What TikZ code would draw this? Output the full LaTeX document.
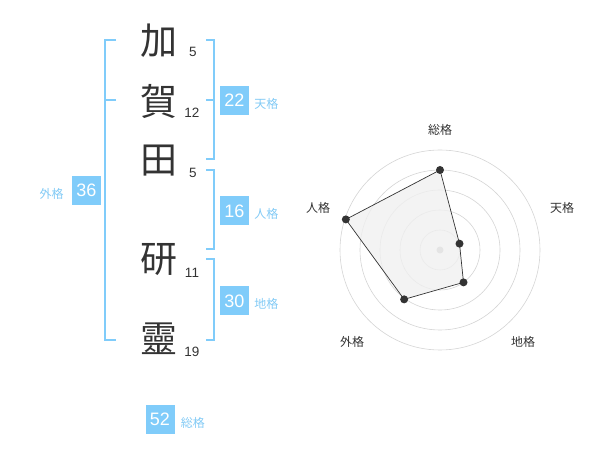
\documentclass[tikz,border=0pt]{standalone}
\usepackage{fontspec}
\setmainfont{Liberation Sans}
\newfontfamily\jpfont{Noto Sans CJK JP}
\usetikzlibrary{positioning}
\definecolor{kakublue}{RGB}{128,204,250}
\definecolor{kakutext}{RGB}{130,202,245}
\definecolor{inkgray}{RGB}{51,51,51}
\definecolor{ringgray}{RGB}{212,212,212}
\definecolor{areagray}{RGB}{240,240,240}

\begin{document}
\begin{tikzpicture}[
  x=1pt, y=-1pt,
  every node/.style={inner sep=0pt},
  kanji/.style={font=\jpfont\fontsize{37}{37}\selectfont, text=inkgray},
  strokes/.style={font=\fontsize{13.5}{13.5}\selectfont, text=inkgray},
  score/.style={fill=kakublue, text=white, minimum size=29pt, font=\fontsize{18}{18}\selectfont},
  kaku/.style={font=\jpfont\fontsize{12}{12}\selectfont, text=kakutext},
  axislabel/.style={font=\jpfont\fontsize{12}{12}\selectfont, text=inkgray},
  brace/.style={draw=kakublue, line width=2pt},
  ring/.style={draw=ringgray, line width=0.6pt},
  dot/.style={circle, fill=inkgray, minimum size=8pt},
  ]
  \useasboundingbox (0,0) rectangle (600,470);

  % name
  \node[kanji] (ka) at (159,41) {加};
  \node[kanji] (ga) at (159,101) {賀};
  \node[kanji] (ta) at (159,161) {田};
  \node[kanji] (ken) at (159,260) {研};
  \node[kanji] (rei) at (159,339) {靈};
  \node[strokes] (nka) at (193,52) {5};
  \node[strokes] (nga) at (192,113) {12};
  \node[strokes] (nta) at (193,173) {5};
  \node[strokes] (nken) at (192,273) {11};
  \node[strokes] (nrei) at (192,352) {19};

  % brackets
  \coordinate (tenTop) at (206,40);
  \coordinate (tenMid) at (206,100);
  \coordinate (tenBot) at (206,159);
  \coordinate (jinTop) at (206,170);
  \coordinate (jinBot) at (206,249);
  \coordinate (chiTop) at (206,259);
  \coordinate (chiBot) at (206,340);
  \coordinate (gaiTop) at (116,40);
  \coordinate (gaiMid) at (116,100);
  \coordinate (gaiBot) at (116,340);
  \draw[brace] (tenTop) -- ++(8,0) |- (tenBot);
  \draw[brace] (tenMid) -- ++(8,0);
  \draw[brace] (jinTop) -- ++(8,0) |- (jinBot);
  \draw[brace] (chiTop) -- ++(8,0) |- (chiBot);
  \draw[brace] (gaiTop) -- ++(-11,0) |- (gaiBot);
  \draw[brace] (gaiMid) -- ++(-11,0);

  % scores
  \node[score] (b22) at (234.5,100.5) {22};
  \node[kaku, right=5pt of b22, yshift=-3pt] (ten) {天格};
  \node[score] (b16) at (234.5,211) {16};
  \node[kaku, right=5pt of b16, yshift=-3pt] (jin) {人格};
  \node[score] (b30) at (234.5,301) {30};
  \node[kaku, right=5pt of b30, yshift=-3pt] (chi) {地格};
  \node[score] (b36) at (86.5,190.5) {36};
  \node[kaku, left=8pt of b36, yshift=-3pt] (gai) {外格};
  \node[score] (b52) at (160,419.5) {52};
  \node[kaku, right=6pt of b52, yshift=-3pt] (sou) {総格};

  % radar
  \begin{scope}[shift={(440,250)}]
    \foreach \r in {20,40,60,80,100}
      \draw[ring] (0,0) circle[radius=\r pt];
    \fill[ringgray!85!black] (0,0) circle[radius=3.5pt];
    \coordinate (psou) at (-90:80);
    \coordinate (pten) at (-18:20.5);
    \coordinate (pchi) at (54:40);
    \coordinate (pgai) at (126:61);
    \coordinate (pjin) at (198:99);
    \draw[fill=areagray, draw=inkgray, line width=0.7pt, fill opacity=0.8]
      (psou) -- (pten) -- (pchi) -- (pgai) -- (pjin) -- cycle;
    \foreach \p in {psou,pten,pchi,pgai,pjin}
      \node[dot] at (\p) {};
  \end{scope}
  \node[axislabel] (lsou) at (440,130) {総格};
  \node[axislabel] (lten) at (562,208) {天格};
  \node[axislabel] (lchi) at (523,342) {地格};
  \node[axislabel] (lgai) at (352,342) {外格};
  \node[axislabel] (ljin) at (318,208) {人格};

\end{tikzpicture}
\end{document}
